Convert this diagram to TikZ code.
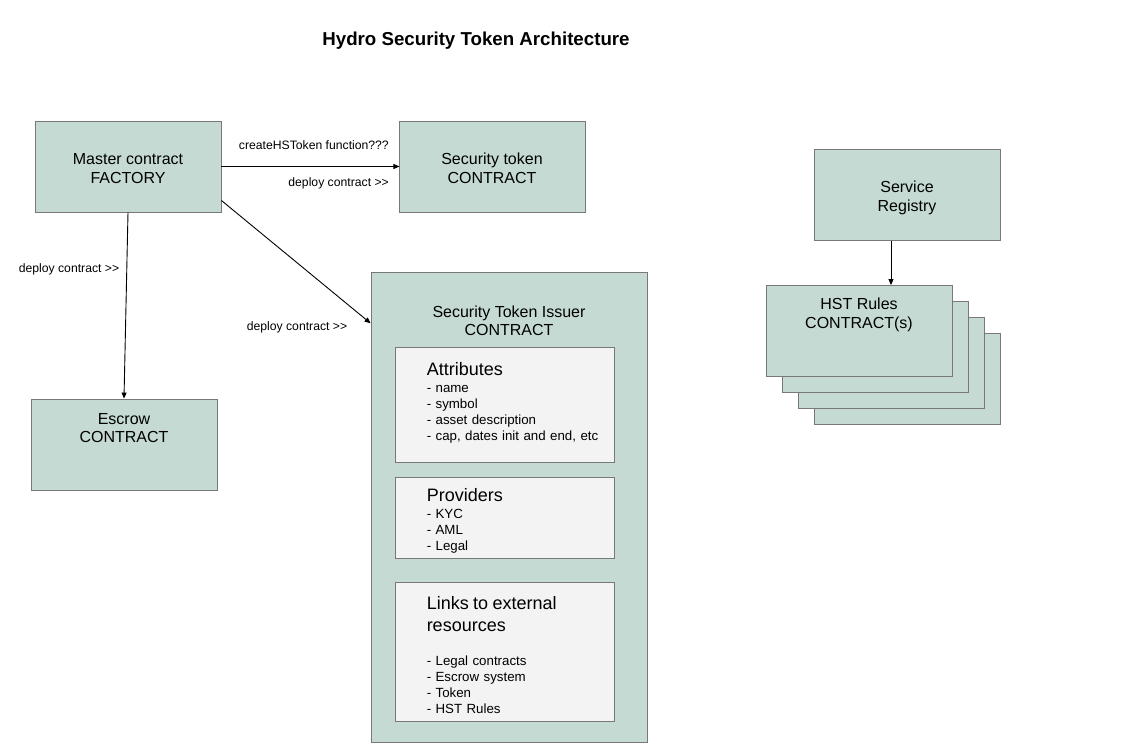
\documentclass[tikz,border=0pt]{standalone}
\usepackage{fontspec}
\setmainfont{Liberation Sans}
\usepackage{xcolor}
\usepackage{tikz}
\usetikzlibrary{positioning}
\usetikzlibrary{arrows.meta}
\definecolor{boxgreen}{RGB}{197,218,210}
\definecolor{boxline}{RGB}{120,120,120}
\definecolor{panelgray}{RGB}{243,243,243}

\begin{document}
\begin{tikzpicture}[x=1pt,y=-1pt]
  \tikzset{Box/.style={rectangle, draw=boxline, line width=0.9pt, fill=boxgreen, minimum width=186pt, minimum height=91pt, inner sep=0pt}};
  \tikzset{BoxText/.style={align=center, font=\fontsize{16}{18.5}\selectfont, inner sep=0pt}};
  \tikzset{Panel/.style={rectangle, draw=boxline, line width=0.9pt, fill=panelgray, minimum width=219pt, inner sep=0pt}};
  \tikzset{PanelText/.style={align=left, text width=182pt, font=\fontsize{13.3}{16}\selectfont, inner sep=0pt, anchor=west}};
  \tikzset{Note/.style={font=\fontsize{12.2}{14}\selectfont, inner sep=0pt}};
  \tikzset{Arrow/.style={-{Triangle[length=6pt,width=5pt]}, line width=0.9pt}};
  \useasboundingbox[fill=white] (0,0) rectangle (1127,746);
  \node[font=\fontsize{18.7}{22}\selectfont\bfseries] (title) at (476,41) {Hydro Security Token Architecture};
  % factory and the contracts it deploys
  \node[Box] (master) at (128,166.5) {};
  \node[BoxText] (mastertext) at (128,168.5) {Master contract\\FACTORY};
  \node[Box, right=178pt of master] (token) {};
  \node[BoxText] (tokentext) at (492,168.5) {Security token\\CONTRACT};
  \node[Box] (escrow) at (124,444.5) {};
  \node[BoxText] (escrowtext) at (124,428) {Escrow\\CONTRACT};
  % issuer contract
  \node[Box, minimum width=276pt, minimum height=470pt] (issuer) at (509,507) {};
  \node[BoxText] (issuertext) at (509,321) {Security Token Issuer\\CONTRACT};
  \node[Panel, minimum height=115pt] (attr) at (504.5,404.5) {};
  \node[Panel, minimum height=81pt, below=15pt of attr] (prov) {};
  \node[Panel, minimum height=139pt, below=23pt of prov] (links) {};
  \node[PanelText, right=32pt of attr.west, yshift=2pt] (attrtext) {{\fontsize{18}{20}\selectfont Attributes}\\[1pt] - name\\ - symbol\\ - asset description\\ - cap, dates init and end, etc};
  \node[PanelText, right=32pt of prov.west, yshift=-2.5pt] (provtext) {{\fontsize{18}{20}\selectfont Providers}\\[1pt] - KYC\\ - AML\\ - Legal};
  \node[PanelText, right=32pt of links.west, yshift=-2.5pt] (linkstext) {{\fontsize{18}{20}\selectfont Links to external\\[6.5pt] resources}\\[18pt] - Legal contracts\\ - Escrow system\\ - Token\\ - HST Rules};
  % registry and rules
  \node[Box] (registry) at (907,195) {};
  \node[BoxText] (registrytext) at (907,198) {Service\\Registry};
  \foreach \i in {3,2,1} {
    \node[Box] (hst\i) at (859+16*\i,331+16*\i) {};
  }
  \node[Box] (hst0) at (859,331) {};
  \node[BoxText] (hsttext) at (859,315) {HST Rules\\CONTRACT(s)};
  % connectors
  \draw[Arrow] (master.east) -- (token.west);
  \draw[Arrow] (master.south) -- (escrow.north);
  \draw[Arrow] (master.-20) -- (issuer.127.5);
  \draw[Arrow] ([xshift=-16pt]registry.south) -- ([xshift=32pt]hst0.north);
  \node[Note, anchor=east] (create) at (389,145) {createHSToken function???};
  \node[Note, anchor=east] (deploy1) at (389,183) {deploy contract >{}>};
  \node[Note] (deploy2) at (69,269) {deploy contract >{}>};
  \node[Note] (deploy3) at (297,327) {deploy contract >{}>};
\end{tikzpicture}
\end{document}
